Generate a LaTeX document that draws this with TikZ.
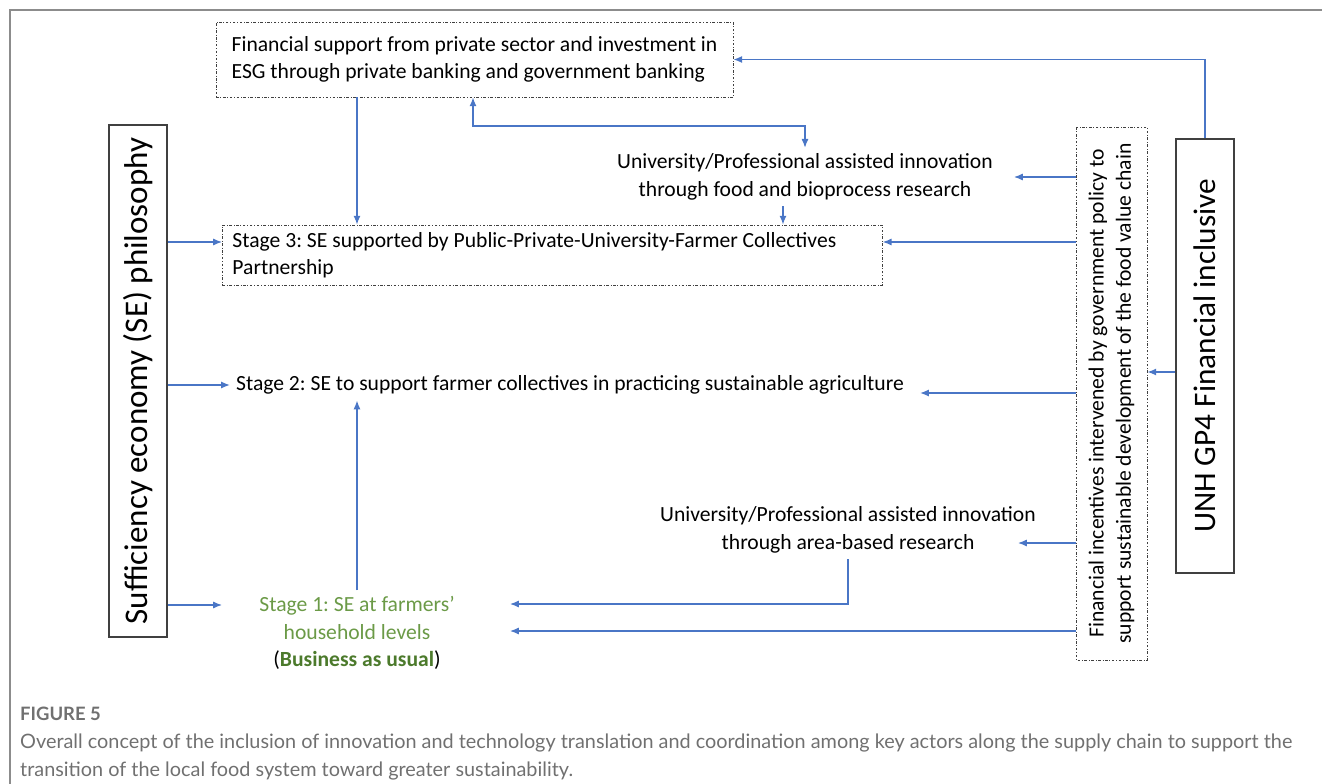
\documentclass[tikz,border=0pt]{standalone}
\usepackage{fontspec}
\setmainfont{Carlito}
\newfontfamily\capfont{Lato}
\usetikzlibrary{arrows,positioning}
\usetikzlibrary{arrows.meta}
\definecolor{linkblue}{HTML}{4A76C6}
\definecolor{stagegreen}{HTML}{6B9A47}
\definecolor{darkgreen}{HTML}{4C7A2C}
\definecolor{framegray}{HTML}{8C8C8C}
\definecolor{capgray}{HTML}{707070}
\frenchspacing

\begin{document}
\begin{tikzpicture}[x=0.02cm,y=-0.02cm,>={Latex[length=5pt,width=4pt]},every node/.append style={align=center,font=\fontsize{12.3}{15.6}\selectfont},solidbox/.style={draw=black!75, line width=0.8pt},dashbox/.style={draw=black!75, line width=0.5pt, dash pattern=on 1.5pt off 1pt on 0.4pt off 1pt},
  link/.style={->, draw=linkblue, line width=0.7pt}]
    \useasboundingbox (0,0) rectangle (1322,784);
    \draw[framegray, line width=1pt] (10,784) -- (10,10) -- (1322,10);
    % side boxes
    \node [solidbox, rotate=90, minimum width=10.24cm, minimum height=1.16cm, font=\fontsize{18.8}{22}\selectfont] (sep) at (138,381) {Sufficiency economy (SE) philosophy};
    \node [solidbox, rotate=90, minimum width=8.68cm, minimum height=1.16cm, font=\fontsize{17.8}{22}\selectfont] (unh) at (1205,356) {UNH GP4 Financial inclusive};
    \node [dashbox, rotate=90, minimum width=10.66cm, minimum height=1.42cm] (inc) at (1111.5,393.5) {Financial incentives intervened by government policy to\\support sustainable development of the food value chain};
    % middle column
    \node [dashbox, align=flush left, minimum width=10.34cm, minimum height=1.5cm] (fin) at (474.5,59.5) {Financial support from private sector and investment in\\ESG through private banking and government banking};
    \node [dashbox, anchor=west, align=flush left, text width=12.8cm, inner xsep=0.2cm, minimum height=1.2cm] (st3) at (222,255) {Stage 3: SE supported by Public-Private-University-Farmer Collectives\\Partnership};
    \node (uni1) at (805,177) {University/Professional assisted innovation\\through food and bioprocess research};
    \node (st2) at (570,385) {Stage 2: SE to support farmer collectives in practicing sustainable agriculture};
    \node (uni2) at (848,530) {University/Professional assisted innovation\\through area-based research};
    \node [text=stagegreen] (st1) at (357,633) {Stage 1: SE at farmers'\\household levels\\{\color{black}(}\textbf{\color{darkgreen}Business as usual}{\color{black})}};
    % caption
    \node [anchor=west, font=\capfont\bfseries\fontsize{10.5}{13}\selectfont, text=capgray] (fig) at (14,714) {FIGURE 5};
    \node [anchor=north west, align=left, font=\capfont\fontsize{11.3}{15.5}\selectfont, text=capgray] (cap) at (14,728) {Overall concept of the inclusion of innovation and technology translation and coordination among key actors along the supply chain to support the\\transition of the local food system toward greater sustainability.};
    % levels
    \coordinate (fork) at (473,126);
    \coordinate (x1) at (357,0);
    \coordinate (x2) at (783,0);
    \coordinate (l3) at (0,242);
    \coordinate (l2) at (0,393);
    \coordinate (u2) at (0,543);
    \coordinate (l1) at (0,605);
    \coordinate (h1) at (0,631);
    \coordinate (g) at (0,372);
    \coordinate (s1in) at (222,605);
    \coordinate (s1up) at (510,604);
    \coordinate (s1lo) at (510,631);
    \coordinate (u2in) at (1018,543);
    % connectors
    \draw[link] (unh.east) |- (fin.east);
    \draw[link] (fin.south -| x1) -- (st3.north -| x1);
    \draw[link,<->] (fin.south -| fork) -- (fork) -| (uni1.north);
    \draw[link] (uni1.south -| x2) -- (st3.north -| x2);
    \draw[link] (sep.south |- l3) -- (st3.west |- l3);
    \draw[link] (inc.north |- l3) -- (st3.east |- l3);
    \draw[link] (inc.north |- uni1.east) -- ([xshift=0.3cm]uni1.east);
    \draw[link] (sep.south |- st2.west) -- (st2.west);
    \draw[link] (inc.north |- l2) -- ([xshift=0.2cm]st2.east |- l2);
    \draw[link] (st1.north) -- (st2.south -| st1);
    \draw[link] (sep.south |- l1) -- (s1in);
    \draw[link] (uni2.south) |- (s1up);
    \draw[link] (inc.north |- u2) -- (u2in);
    \draw[link] (inc.north |- h1) -- (s1lo);
    \draw[link] (unh.north |- g) -- (inc.south |- g);
\end{tikzpicture}
\end{document}
